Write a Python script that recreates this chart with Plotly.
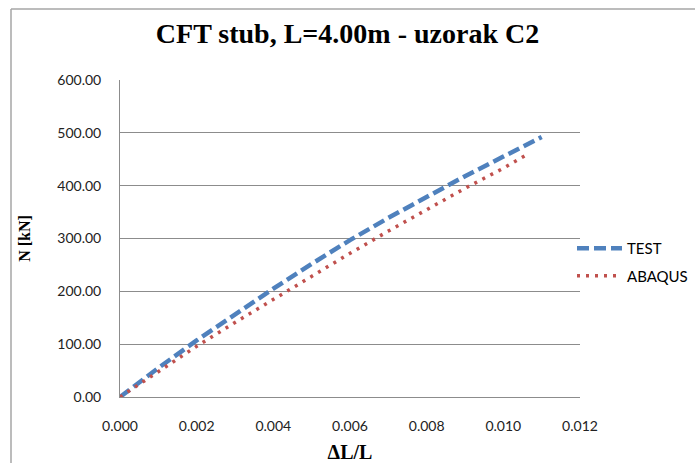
import plotly.graph_objects as go

test_x = [0, 0.001, 0.002, 0.003, 0.004, 0.005, 0.006, 0.007, 0.008, 0.009, 0.010, 0.0110]
test_n = [0, 55, 107, 157, 205, 252, 297, 339, 379, 418, 455, 492]
abaqus_x = [0, 0.001, 0.002, 0.003, 0.004, 0.005, 0.006, 0.007, 0.008, 0.009, 0.010, 0.0106]
abaqus_n = [0, 48, 96, 141, 185, 229, 272, 314, 355, 395, 433, 458]

x_ticks = [0, 0.002, 0.004, 0.006, 0.008, 0.010, 0.012]
y_ticks = [0, 100, 200, 300, 400, 500, 600]

W, H = 695, 463
L, R, T, B = 120, 115, 80, 66
pw, ph = W - L - R, H - T - B

def px(x):
    return (x - L) / pw

def py(y):
    return (H - B - y) / ph

fig = go.Figure()
fig.add_trace(go.Scatter(x=test_x, y=test_n, mode="lines", name="TEST", legendgroup="a",
                         line=dict(color="#4F81BD", width=4.5, dash="12px,5px")))
fig.add_trace(go.Scatter(x=abaqus_x, y=abaqus_n, mode="lines", name="ABAQUS", legendgroup="b",
                         line=dict(color="#C0504D", width=3.5, dash="3px,6px")))

tickfont = dict(family="Lato, Open Sans, sans-serif", size=14, color="#222222")
serif = "Liberation Serif, Times New Roman, serif"

fig.update_layout(
    width=W, height=H,
    margin=dict(l=L, r=R, t=T, b=B, autoexpand=False),
    paper_bgcolor="white", plot_bgcolor="white",
    title=dict(text="<b>CFT stub, L=4.00m - uzorak C2</b>", x=0.5, xanchor="center",
               y=1 - 33 / H, yanchor="middle",
               font=dict(family=serif, size=28, color="black")),
    xaxis=dict(range=[0, 0.012], tickvals=x_ticks, tickformat=".3f",
               showgrid=False, zeroline=False, showline=True, linecolor="#8c8c8c",
               linewidth=1, ticks="", tickfont=tickfont, ticklabelstandoff=16,
               automargin=False,
               title=dict(text="<b>ΔL/L</b>", font=dict(family=serif, size=20, color="black"),
                          standoff=19)),
    yaxis=dict(range=[0, 600], tickvals=y_ticks, tickformat=".2f",
               showgrid=True, gridcolor="#8c8c8c", gridwidth=1, zeroline=False,
               showline=True, linecolor="#8c8c8c", linewidth=1, ticks="",
               tickfont=tickfont, ticklabelstandoff=15, automargin=False,
               title=dict(text="<b>N [kN]</b>", font=dict(family=serif, size=16, color="black"),
                          standoff=22)),
    legend=dict(x=px(572), y=py(232), xanchor="left", yanchor="top",
                font=dict(family="Lato, Open Sans, sans-serif", size=15, color="black"),
                bgcolor="rgba(0,0,0,0)", itemwidth=45, tracegroupgap=5),
    showlegend=True,
)

fig.add_shape(type="line", xref="paper", yref="paper", x0=px(11), x1=px(700), y0=py(9), y1=py(9),
              line=dict(color="#a6a6a6", width=1.5))
fig.add_shape(type="line", xref="paper", yref="paper", x0=px(11), x1=px(11), y0=py(9), y1=py(470),
              line=dict(color="#a6a6a6", width=1.5))

fig.write_html("out.html", config={"displayModeBar": False},
               post_script="document.body.style.margin='0';")
